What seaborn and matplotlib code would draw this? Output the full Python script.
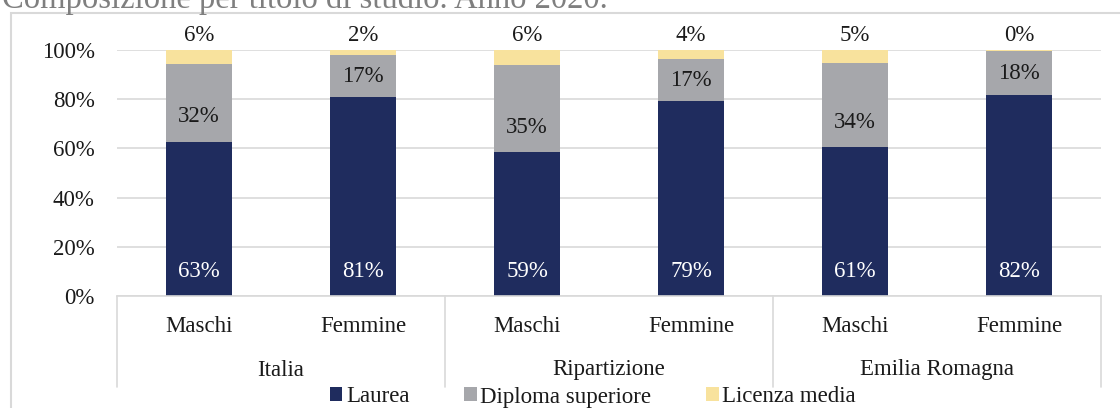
import numpy as np
import pandas as pd
import matplotlib
matplotlib.use("Agg")
import matplotlib.pyplot as plt
from matplotlib.patches import Rectangle, Patch
from matplotlib.lines import Line2D
import seaborn as sns

# ---- data ----
groups = ["Italia", "Italia", "Ripartizione", "Ripartizione", "Emilia Romagna", "Emilia Romagna"]
sexes = ["Maschi", "Femmine", "Maschi", "Femmine", "Maschi", "Femmine"]
laurea = [62.8, 81.0, 58.6, 79.2, 60.7, 81.6]
diploma = [31.6, 16.8, 35.2, 17.0, 34.2, 18.1]
licenza = [5.6, 2.2, 6.2, 3.8, 5.1, 0.3]
series_names = ["Laurea", "Diploma superiore", "Licenza media"]
title = "Composizione per titolo di studio. Anno 2020."

colors = ["#1F2C5E", "#A6A7AB", "#F8E29D"]
txt = "#1a1a1a"

sns.set_theme(style="white")
plt.rcParams["font.family"] = ["Liberation Serif", "DejaVu Serif"]
FS = 16.5

keys = [f"{g}|{s}" for g, s in zip(groups, sexes)]
df = pd.DataFrame({"key": keys, "Laurea": laurea, "Diploma": diploma, "Licenza": licenza})

fig = plt.figure(figsize=(11.2, 4.08), dpi=100)
W, H = 1120, 408
ax = fig.add_axes([117 / W, 1 - 296 / H, (1101 - 117) / W, (296 - 50) / H])

bottoms = np.zeros(len(df))
for col, c in zip(["Laurea", "Diploma", "Licenza"], colors):
    sns.barplot(data=df, x="key", y=col, color=c, width=0.4, bottom=bottoms,
                ax=ax, saturation=1, order=keys, linewidth=0)
    bottoms = bottoms + df[col].values

ax.set_ylim(0, 100)
ax.set_xlim(-0.5, len(keys) - 0.5)
ax.set_yticks(np.arange(0, 101, 20))
ax.set_yticklabels([f"{v}%" for v in range(0, 101, 20)], fontsize=FS, color=txt)
ax.tick_params(axis="y", length=0, pad=16)
ax.set_xticks([])
ax.set_xlabel("")
ax.set_ylabel("")
for s in ["top", "right", "left"]:
    ax.spines[s].set_visible(False)
ax.spines["bottom"].set_color("#d9d9d9")
ax.spines["bottom"].set_linewidth(1.2)
ax.yaxis.grid(True, color="#d9d9d9", linewidth=1.2)
ax.set_axisbelow(True)

# labels
for i in range(len(keys)):
    ax.text(i, 10, f"{round(laurea[i])}%", ha="center", va="center", color="white", fontsize=FS)
    b = laurea[i]
    yd = min(b + diploma[i] / 2, b + 10)
    ax.text(i, yd, f"{round(diploma[i])}%", ha="center", va="center", color=txt, fontsize=FS)
    top = laurea[i] + diploma[i] + licenza[i]
    ax.text(i, top + 1.5, f"{round(licenza[i])}%", ha="center", va="bottom", color=txt,
            fontsize=FS, clip_on=False)

# hierarchical x labels
trans = ax.get_xaxis_transform()
ax_h = 296 - 50
def ay(py):
    return -(py - 296) / ax_h

for i, s in enumerate(sexes):
    ax.text(i, ay(326), s, transform=trans, ha="center", va="center", fontsize=FS, color=txt)
uniq = list(dict.fromkeys(groups))
for g in uniq:
    idx = [i for i, gg in enumerate(groups) if gg == g]
    ax.text(np.mean(idx), ay(370), g, transform=trans, ha="center", va="center", fontsize=FS, color=txt)
seps = [-0.5] + [i + 0.5 for i in range(len(groups) - 1) if groups[i] != groups[i + 1]] + [len(groups) - 0.5]
for xs in seps:
    ax.add_line(Line2D([xs, xs], [0, ay(387)], transform=trans, color="#d9d9d9",
                       linewidth=1.2, clip_on=False))

# legend
handles = [Patch(facecolor=c, edgecolor="none") for c in colors]
fig.legend(handles, series_names, loc="center", bbox_to_anchor=(593 / W, 1 - 397 / H),
           ncol=3, frameon=False, fontsize=FS, handlelength=0.55, handleheight=0.55,
           handletextpad=0.15, columnspacing=2.4, labelcolor=txt,
           borderpad=0, borderaxespad=0)

# outer frame
fig.patches.append(Rectangle((11 / W, -0.2), 1.2, 1.2 - 13 / H, transform=fig.transFigure,
                             fill=False, edgecolor="#d9d9d9", linewidth=1.5))

# title (partially cropped at top)
fig.text(2 / W, 1 - 8 / H, title, ha="left", va="baseline", fontsize=23.5, color="#7f7f7f")

fig.savefig("out.png", dpi=100)
